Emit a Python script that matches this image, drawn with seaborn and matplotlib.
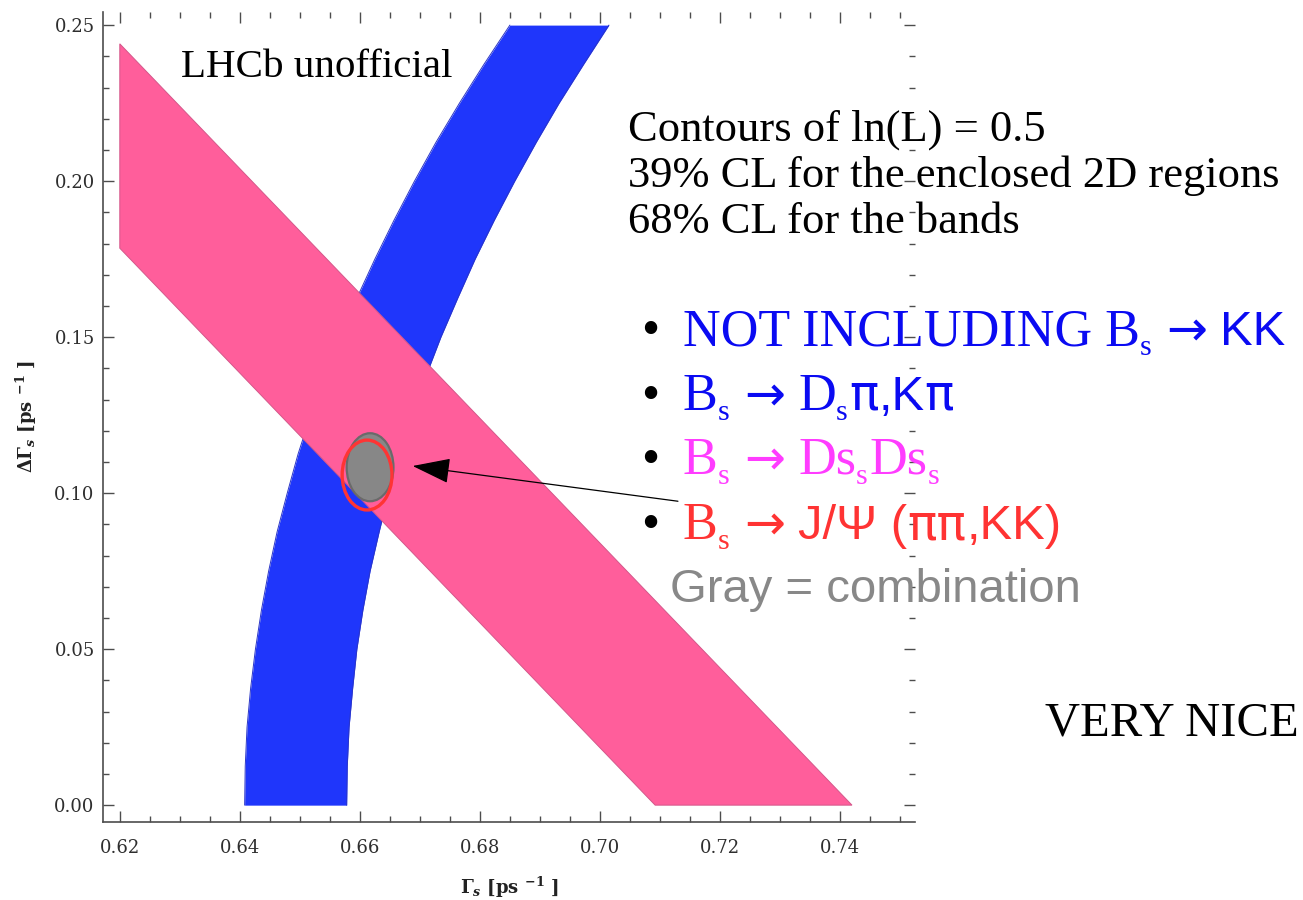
import matplotlib
matplotlib.use("Agg")
import matplotlib.pyplot as plt
import numpy as np
import pandas as pd
import seaborn as sns
from matplotlib.patches import Ellipse, FancyArrowPatch
from matplotlib.ticker import MultipleLocator, FixedLocator

# ---------------------------------------------------------------------------
# Data
# ---------------------------------------------------------------------------
# Blue band (Bs -> Ds pi, K pi): Gamma_s edges sampled along DeltaGamma_s
blue_dg = [0.0000, 0.0125, 0.0250, 0.0375, 0.0500, 0.0625, 0.0750, 0.0875, 0.1000,
           0.1125, 0.1250, 0.1375, 0.1500, 0.1625, 0.1750, 0.1875, 0.2000, 0.2125,
           0.2250, 0.2375, 0.2500]
blue_lo = [0.6408, 0.6409, 0.6412, 0.6418, 0.6426, 0.6436, 0.6448, 0.6462, 0.6479,
           0.6497, 0.6518, 0.6542, 0.6567, 0.6595, 0.6625, 0.6657, 0.6691, 0.6727,
           0.6766, 0.6807, 0.6850]
blue_hi = [0.6578, 0.6579, 0.6582, 0.6588, 0.6595, 0.6605, 0.6617, 0.6632, 0.6648,
           0.6667, 0.6687, 0.6710, 0.6735, 0.6763, 0.6792, 0.6824, 0.6858, 0.6894,
           0.6932, 0.6973, 0.7015]

# Pink band (Bs -> Ds Ds): corner points (Gamma_s, DeltaGamma_s)
pink_gs = [0.6200, 0.7420, 0.7092, 0.6200]
pink_dg = [0.2440, 0.0000, 0.0000, 0.1785]

# 2D contours: centre (Gamma_s, DeltaGamma_s) and full widths
comb_center = (0.6617, 0.1083)
comb_size = (0.0078, 0.0218)
jpsi_center = (0.6612, 0.1058)
jpsi_size = (0.0083, 0.0224)

# Pointer from the legend text to the combined region
arrow_tail = (0.7130, 0.0974)
arrow_head = (0.6688, 0.1087)

x_ticks = [0.62, 0.64, 0.66, 0.68, 0.70, 0.72, 0.74]
y_ticks = [0.00, 0.05, 0.10, 0.15, 0.20, 0.25]
x_tick_labels = ["0.62", "0.64", "0.66", "0.68", "0.70", "0.72", "0.74"]
y_tick_labels = ["0.00", "0.05", "0.10", "0.15", "0.20", "0.25"]

# ---------------------------------------------------------------------------
# Style
# ---------------------------------------------------------------------------
sns.set_theme(style="ticks")
SERIF = ["Liberation Serif", "DejaVu Serif"]
SANS = ["Liberation Sans", "DejaVu Sans"]
DVS = ["DejaVu Sans"]
plt.rcParams["font.family"] = SERIF
plt.rcParams["mathtext.fontset"] = "custom"
plt.rcParams["mathtext.rm"] = "DejaVu Serif:bold"
plt.rcParams["mathtext.it"] = "DejaVu Serif:italic:bold"
plt.rcParams["mathtext.bf"] = "DejaVu Serif:bold"

W, H = 1303, 900
fig = plt.figure(figsize=(W / 100, H / 100), dpi=100)
fig.patch.set_facecolor("white")
ax = fig.add_axes([103 / W, 78 / H, 812 / W, 810 / H])
ax.set_facecolor("white")

BLUE = "#1f36fb"
PINK = "#ff5e9b"

# Blue band
ax.fill_betweenx(blue_dg, blue_lo, blue_hi, color=BLUE, lw=0, zorder=1)
edges = pd.DataFrame({"dg": blue_dg, "lo": blue_lo, "hi": blue_hi})
sns.lineplot(data=edges, x="lo", y="dg", sort=False, estimator=None,
             color="#2a35c8", lw=0.7, ax=ax, zorder=1.5)
sns.lineplot(data=edges, x="hi", y="dg", sort=False, estimator=None,
             color="#2a35c8", lw=0.7, ax=ax, zorder=1.5)

# Pink band on top
ax.fill(pink_gs, pink_dg, facecolor=PINK, edgecolor="#d4578a", lw=0.7, zorder=2)

# Combined (gray) and J/psi (red) contours
ax.add_patch(Ellipse(comb_center, comb_size[0], comb_size[1],
                     facecolor="#878787", edgecolor="#6a6a6a", lw=1.6, zorder=4))
ax.add_patch(Ellipse(jpsi_center, jpsi_size[0], jpsi_size[1],
                     facecolor="none", edgecolor="#ff3434", lw=2.4, zorder=5))

ax.add_patch(FancyArrowPatch(arrow_tail, arrow_head,
                             arrowstyle="-|>,head_length=24,head_width=8",
                             mutation_scale=1, lw=0.9, color="black",
                             shrinkA=0, shrinkB=0, zorder=6, clip_on=False))

# Axes frame
ax.set_xlim(0.6172, 0.7525)
ax.set_ylim(-0.0054, 0.2542)
ax.xaxis.set_major_locator(FixedLocator(x_ticks))
ax.yaxis.set_major_locator(FixedLocator(y_ticks))
ax.set_xticklabels(x_tick_labels)
ax.set_yticklabels(y_tick_labels)
ax.xaxis.set_minor_locator(MultipleLocator(0.005))
ax.yaxis.set_minor_locator(MultipleLocator(0.01))
for side in ("top", "right"):
    ax.spines[side].set_visible(False)
for side in ("left", "bottom"):
    ax.spines[side].set_color("#4d4d4d")
    ax.spines[side].set_linewidth(1.2)

ax.tick_params(which="both", direction="in", top=True, right=True,
               color="#4d4d4d", width=1.0)
ax.tick_params(which="major", length=8)
ax.tick_params(which="minor", length=4.5)
ax.tick_params(axis="x", which="major", pad=12)
ax.tick_params(axis="y", which="major", pad=6)
for lab in ax.get_xticklabels() + ax.get_yticklabels():
    lab.set_fontfamily("DejaVu Serif")
    lab.set_fontsize(13)
    lab.set_color("#2e2e2e")
for axis in (ax.xaxis, ax.yaxis):
    for tk in axis.get_major_ticks() + axis.get_minor_ticks():
        tk.tick2line.set_color("#c8c8c8")

ax.set_xlabel(r"$\Gamma_s$ [ps $^{-1}$ ]", fontsize=13, fontweight="bold",
              family="DejaVu Serif", color="#222222", labelpad=13)
ax.set_ylabel(r"$\Delta\Gamma_s$ [ps $^{-1}$ ]", fontsize=13, fontweight="bold",
              family="DejaVu Serif", color="#222222", labelpad=11)

# ---------------------------------------------------------------------------
# Annotations
# ---------------------------------------------------------------------------
def fy(px):
    return 1 - px / H


def fx(px):
    return px / W


fig.text(fx(181), fy(77), "LHCb unofficial", fontsize=29.5, family=SERIF,
         color="black", va="baseline")

for base, line in zip((141, 187, 233),
                      ("Contours of ln(L) = 0.5",
                       "39% CL for the enclosed 2D regions",
                       "68% CL for the bands")):
    fig.text(fx(628), fy(base), line, fontsize=32, family=SERIF,
             color="black", va="baseline")

renderer = fig.canvas.get_renderer()


def put_runs(x0, base, runs, size, color):
    """Lay out text pieces left to right; sub pieces are subscripts."""
    x = x0
    px_per_pt = fig.dpi / 72
    for text, fam, kind in runs:
        if text == " ":
            x += 0.25 * size * px_per_pt
            continue
        if kind == "sub":
            fs, yb = size * 0.58, base + 0.2 * size * px_per_pt
        elif kind == "sans":
            fs, yb = size * 0.94, base
        else:
            fs, yb = size, base
        t = fig.text(fx(x), fy(yb), text, fontsize=fs, family=fam,
                     color=color, ha="left", va="baseline")
        x += t.get_window_extent(renderer).width + (1.5 if kind == "sub" else 0.0)


BULLET_SIZE = 37.5
bullet_lines = [
    (345, "#0a0af2", [("NOT INCLUDING B", SERIF, "rm"), ("s", SERIF, "sub"), (" ", None, ""),
                      ("\u2192", DVS, "sans"), (" ", None, ""), ("KK", SANS, "sans")]),
    (410, "#0a0af2", [("B", SERIF, "rm"), ("s", SERIF, "sub"), (" ", None, ""),
                      ("\u2192", DVS, "sans"), (" ", None, ""), ("D", SERIF, "rm"),
                      ("s", SERIF, "sub"), ("\u03c0", DVS, "sans"), (",K", SANS, "sans"),
                      ("\u03c0", DVS, "sans")]),
    (474, "#ff3cff", [("B", SERIF, "rm"), ("s", SERIF, "sub"), (" ", None, ""),
                      ("\u2192", DVS, "sans"), (" ", None, ""), ("Ds", SERIF, "rm"),
                      ("s", SERIF, "sub"), ("Ds", SERIF, "rm"), ("s", SERIF, "sub")]),
    (539, "#ff3333", [("B", SERIF, "rm"), ("s", SERIF, "sub"), (" ", None, ""),
                      ("\u2192", DVS, "sans"), (" ", None, ""),
                      ("J/\u03a8 (", SANS, "sans"), ("\u03c0\u03c0", DVS, "sans"),
                      (",KK)", SANS, "sans")]),
]
for base, color, runs in bullet_lines:
    fig.text(fx(641), fy(base), "\u2022", fontsize=BULLET_SIZE, family=SERIF,
             color="black", va="baseline")
    put_runs(683, base, runs, BULLET_SIZE, color)

fig.text(fx(670), fy(602), "Gray = combination", fontsize=34, family=SANS,
         color="#888888", va="baseline")

fig.text(fx(1045), fy(735), "VERY NICE", fontsize=35, family=SERIF,
         color="black", va="baseline")

fig.savefig("out.png", dpi=100, facecolor="white")
